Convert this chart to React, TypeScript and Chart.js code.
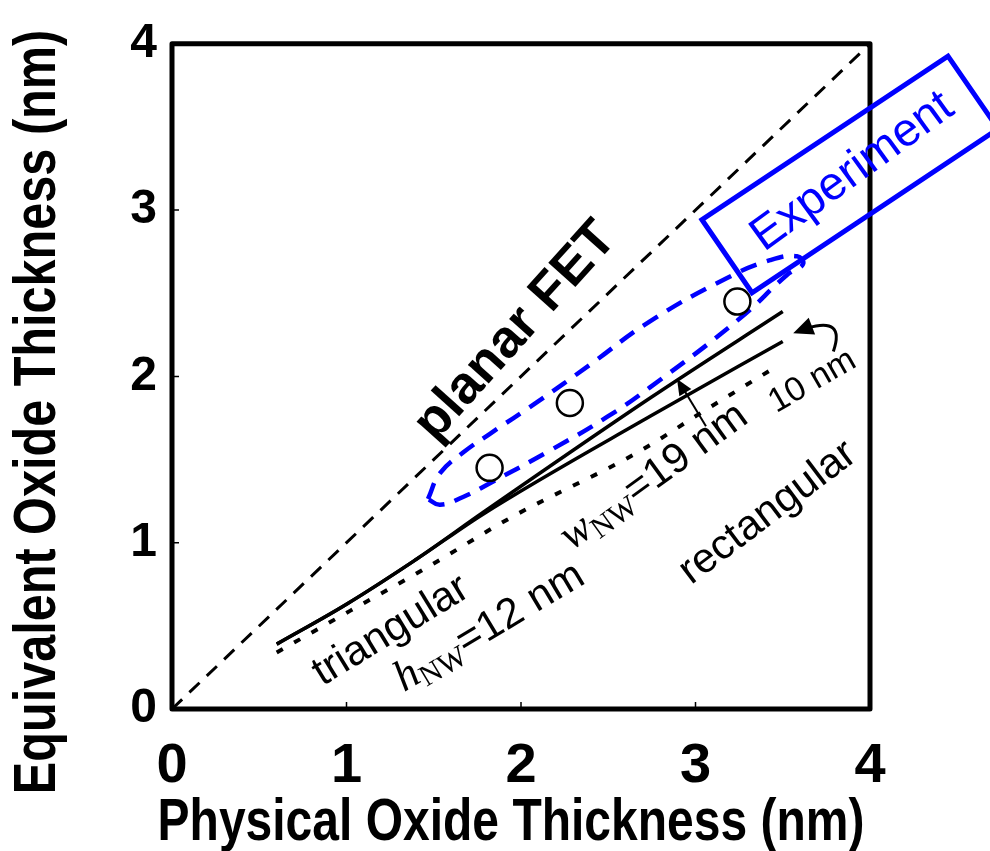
import { useEffect, useRef } from 'react';
import { Chart, registerables } from 'chart.js';
Chart.register(...registerables);

// ---- data ----
const tickValues = [0, 1, 2, 3, 4];
const planarX = [0, 4];
const planarY = [0, 4];
const expX = [1.82, 2.28, 3.24];
const expY = [1.45, 1.84, 2.45];
const upperX = [0.6, 1.0, 1.4, 1.78, 2.74, 3.5];
const upperY = [0.39, 0.63, 0.9, 1.18, 1.87, 2.39];
const lowerX = [0.6, 1.0, 1.4, 1.78, 2.74, 3.5];
const lowerY = [0.39, 0.63, 0.9, 1.17, 1.76, 2.21];
const dotX = [0.6, 1.02, 1.46, 1.94, 2.68, 3.03, 3.48];
const dotY = [0.34, 0.59, 0.85, 1.15, 1.55, 1.78, 2.07];
const ellX = [1.467, 1.536, 1.668, 1.822, 2.092, 2.395, 2.739, 3.181, 3.427, 3.582, 3.616, 3.524, 3.255, 2.739, 2.493, 2.166, 1.822, 1.668, 1.536, 1.467];
const ellY = [1.263, 1.418, 1.542, 1.655, 1.845, 2.07, 2.331, 2.592, 2.699, 2.722, 2.675, 2.61, 2.349, 1.934, 1.756, 1.554, 1.358, 1.275, 1.228, 1.263];
const boxX = [3.037, 3.324, 4.734, 4.447];
const boxY = [2.942, 2.503, 3.488, 3.926];

const xTitle = 'Physical Oxide Thickness (nm)';
const yTitle = 'Equivalent Oxide Thickness (nm)';

const pts = (xs: number[], ys: number[]) => xs.map((x, i) => ({ x, y: ys[i] }));

const SANS = '"Liberation Sans", Arial, sans-serif';
const SERIF = '"Liberation Serif", "Times New Roman", serif';
const BLUE = '#0000ff';

const annot = {
  id: 'annot',
  afterDatasetsDraw(chart: any) {
    const { ctx, chartArea: a, scales } = chart;
    const X = (v: number) => scales.x.getPixelForValue(v);
    const Y = (v: number) => scales.y.getPixelForValue(v);
    ctx.save();
    // frame
    ctx.strokeStyle = '#000';
    ctx.lineWidth = 5;
    ctx.lineJoin = 'round';
    ctx.strokeRect(a.left, a.top, a.right - a.left, a.bottom - a.top);
    // inward ticks
    ctx.lineWidth = 1.5;
    for (const v of [1, 2, 3]) {
      ctx.beginPath();
      ctx.moveTo(X(v), a.bottom);
      ctx.lineTo(X(v), a.bottom - 7);
      ctx.moveTo(a.left, Y(v));
      ctx.lineTo(a.left + 7, Y(v));
      ctx.stroke();
    }
    // experiment box
    ctx.strokeStyle = BLUE;
    ctx.lineWidth = 5;
    ctx.lineJoin = 'miter';
    ctx.beginPath();
    boxX.forEach((x, i) => (i ? ctx.lineTo(X(x), Y(boxY[i])) : ctx.moveTo(X(x), Y(boxY[i]))));
    ctx.closePath();
    ctx.stroke();

    const text = (t: string, x: number, y: number, deg: number, font: string, color = '#000') => {
      ctx.save();
      ctx.translate(X(x), Y(y));
      ctx.rotate((deg * Math.PI) / 180);
      ctx.font = font;
      ctx.fillStyle = color;
      ctx.textAlign = 'center';
      ctx.textBaseline = 'middle';
      ctx.fillText(t, 0, 0);
      ctx.restore();
    };
    const sub = (main: string, s: string, rest: string, x: number, y: number, deg: number) => {
      ctx.save();
      ctx.translate(X(x), Y(y));
      ctx.rotate((deg * Math.PI) / 180);
      ctx.fillStyle = '#000';
      ctx.textAlign = 'left';
      ctx.textBaseline = 'alphabetic';
      let cx = 0;
      ctx.font = `italic 44px ${SERIF}`;
      ctx.fillText(main, cx, 0);
      cx += ctx.measureText(main).width;
      ctx.font = `30px ${SERIF}`;
      ctx.fillText(s, cx, 7);
      cx += ctx.measureText(s).width;
      ctx.font = `42px ${SANS}`;
      ctx.fillText(rest, cx, 0);
      ctx.restore();
    };
    text('Experiment', 3.9, 3.23, -36, `47px ${SANS}`, BLUE);
    text('planar FET', 1.97, 2.27, -48, `bold 53px ${SANS}`);
    text('triangular', 1.255, 0.47, -31.5, `42px ${SANS}`);
    text('rectangular', 3.415, 1.18, -37, `42px ${SANS}`);
    text('10 nm', 3.67, 1.97, -30, `34px ${SANS}`);
    sub('h', 'NW', '=12 nm', 1.33, 0.1, -31);
    sub('w', 'NW', '=19 nm', 2.29, 0.95, -36);

    // straight arrow
    const arrow = (x0: number, y0: number, x1: number, y1: number, len: number, wid: number) => {
      const ax = X(x1), ay = Y(y1);
      const ang = Math.atan2(ay - Y(y0), ax - X(x0));
      ctx.beginPath();
      ctx.moveTo(ax, ay);
      ctx.lineTo(ax - len * Math.cos(ang) + wid * Math.sin(ang), ay - len * Math.sin(ang) - wid * Math.cos(ang));
      ctx.lineTo(ax - len * Math.cos(ang) - wid * Math.sin(ang), ay - len * Math.sin(ang) + wid * Math.cos(ang));
      ctx.closePath();
      ctx.fill();
    };
    ctx.strokeStyle = '#000';
    ctx.fillStyle = '#000';
    ctx.lineWidth = 2;
    ctx.beginPath();
    ctx.moveTo(X(3.06), Y(1.70));
    ctx.lineTo(X(2.91), Y(1.96));
    ctx.stroke();
    arrow(3.06, 1.70, 2.894, 1.985, 16, 7);
    // curly arrow
    ctx.lineWidth = 3;
    ctx.beginPath();
    ctx.moveTo(X(3.79), Y(2.15));
    ctx.quadraticCurveTo(X(3.86), Y(2.36), X(3.64), Y(2.29));
    ctx.stroke();
    arrow(3.66, 2.30, 3.56, 2.26, 20, 9);

    // axis titles (condensed bold)
    ctx.fillStyle = '#000';
    ctx.font = `bold 60px ${SANS}`;
    ctx.textAlign = 'center';
    ctx.textBaseline = 'middle';
    ctx.save();
    ctx.translate(511, 823);
    ctx.scale(0.8, 1);
    ctx.fillText(xTitle, 0, 0);
    ctx.restore();
    ctx.save();
    ctx.translate(38, 412);
    ctx.rotate(-Math.PI / 2);
    ctx.scale(0.81, 1);
    ctx.fillText(yTitle, 0, 0);
    ctx.restore();
    ctx.restore();
  },
};

export default function App() {
  const ref = useRef<HTMLCanvasElement>(null);
  useEffect(() => {
    document.body.style.margin = '0';
    const chart = new Chart(ref.current!, {
      type: 'scatter',
      data: {
        datasets: [
          {
            data: pts(expX, expY),
            showLine: false,
            pointRadius: 13,
            pointBorderWidth: 2.5,
            pointBorderColor: '#000',
            pointBackgroundColor: '#fff',
          },
          { data: pts(ellX, ellY), showLine: true, tension: 0.45, borderColor: BLUE, borderWidth: 4.5, borderDash: [17, 11], pointRadius: 0 },
          { data: pts(upperX, upperY), showLine: true, cubicInterpolationMode: 'monotone', borderColor: '#000', borderWidth: 3.5, pointRadius: 0 },
          { data: pts(lowerX, lowerY), showLine: true, cubicInterpolationMode: 'monotone', borderColor: '#000', borderWidth: 3.5, pointRadius: 0 },
          { data: pts(dotX, dotY), showLine: true, cubicInterpolationMode: 'monotone', borderColor: '#000', borderWidth: 4, borderDash: [7, 13], pointRadius: 0 },
          { data: pts(planarX, planarY), showLine: true, borderColor: '#000', borderWidth: 3, borderDash: [14, 10], pointRadius: 0 },
        ],
      },
      options: {
        responsive: false,
        animation: false,
        devicePixelRatio: 1,
        layout: { padding: { top: 34, right: 120, left: 0, bottom: 0 } },
        plugins: { legend: { display: false }, tooltip: { enabled: false } },
        scales: {
          x: {
            type: 'linear',
            min: 0,
            max: 4,
            afterBuildTicks: (s: any) => { s.ticks = tickValues.map((v) => ({ value: v })); },
            afterFit: (s: any) => { s.height = 142; },
            grid: { display: false, drawTicks: false },
            border: { display: false },
            ticks: { color: '#000', padding: 24, font: { family: SANS, weight: 'bold', size: 56 } },
          },
          y: {
            type: 'linear',
            min: 0,
            max: 4,
            afterBuildTicks: (s: any) => { s.ticks = tickValues.map((v) => ({ value: v })); },
            afterFit: (s: any) => { s.width = 172; },
            grid: { display: false, drawTicks: false },
            border: { display: false },
            ticks: { color: '#000', padding: 15, font: { family: SANS, weight: 'bold', size: 48 } },
          },
        },
      },
      plugins: [annot],
    } as any);
    return () => chart.destroy();
  }, []);
  return <canvas ref={ref} width={990} height={851} style={{ display: 'block' }} />;
}
